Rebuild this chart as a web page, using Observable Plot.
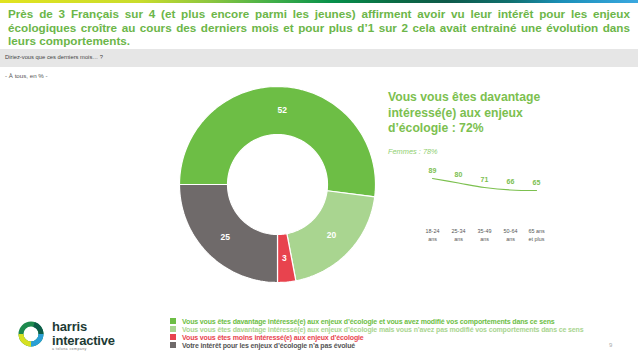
<!DOCTYPE html>
<html>
<head>
<meta charset="utf-8">
<script src="https://cdn.jsdelivr.net/npm/d3@7"></script>
<script src="https://cdn.jsdelivr.net/npm/@observablehq/plot@0.6"></script>
<style>
  html, body { margin: 0; padding: 0; background: #fff; }
  #page { position: relative; width: 638px; height: 359px; overflow: hidden; font-family: "Liberation Sans", Arial, sans-serif; background: #fff; }
  #topbar { position: absolute; left: 0; top: 0; width: 638px; height: 3px;
    background: linear-gradient(to right, #e2e31f 0%, #c9dc2c 22%, #8cc63f 33%, #3fae49 43%, #07904b 52%, #0b6b45 62%, #0e5a4a 70%, #10706f 80%, #1b8fb8 88%, #3aa8e0 100%); }
  #title { position: absolute; left: 8px; top: 7px; width: 622px; font-size: 11.7px; line-height: 13.6px; font-weight: bold; color: #6cb649; text-align: justify; }
  #band { position: absolute; left: 0; top: 49px; width: 638px; height: 18px; background: #e6e6e6; }
  #question { position: absolute; left: 5px; top: 53.5px; font-size: 5.8px; color: #444; }
  #base { position: absolute; left: 5px; top: 72px; font-size: 6.2px; color: #555; }
  #donut { position: absolute; left: 176.7px; top: 83.5px; }
  #rtitle { position: absolute; left: 388px; top: 90px; font-size: 12.2px; line-height: 15.5px; font-weight: bold; color: #7cc04f; }
  #femmes { position: absolute; left: 388px; top: 147px; font-size: 7.4px; font-style: italic; color: #8fcf6f; }
  #line { position: absolute; left: 400px; top: 150px; }
  #legend { position: absolute; left: 170px; top: 317.5px; font-size: 7px; line-height: 8px; font-weight: bold; letter-spacing: -0.14px; }
  #legend div { white-space: nowrap; }
  #legend span.sw { display: inline-block; width: 6px; height: 6px; margin-right: 6px; vertical-align: -0.5px; }
  #pnum { position: absolute; left: 609px; top: 342px; font-size: 6px; color: #aaa; }
  #logo { position: absolute; left: 17px; top: 320px; }
  #logotext1 { position: absolute; left: 52px; top: 320px; font-size: 13px; font-weight: bold; color: #1d3b35; line-height: 13.5px; letter-spacing: -0.2px; }
  #logotext2 { position: absolute; left: 52px; top: 347px; font-size: 3.6px; color: #777; letter-spacing: 0.4px; }
</style>
</head>
<body>
<div id="page">
  <div id="topbar"></div>
  <div id="title">Près de 3 Français sur 4 (et plus encore parmi les jeunes) affirment avoir vu leur intérêt pour les enjeux écologiques croître au cours des derniers mois et pour plus d’1 sur 2 cela avait entrainé une évolution dans leurs comportements.</div>
  <div id="band"></div>
  <div id="question">Diriez-vous que ces derniers mois… ?</div>
  <div id="base">- À tous, en % -</div>
  <div id="donut"></div>
  <div id="rtitle">Vous vous êtes davantage<br>intéressé(e) aux enjeux<br>d’écologie : 72%</div>
  <div id="femmes">Femmes : 78%</div>
  <div id="line"></div>
  <div id="legend"></div>
  <div id="pnum">9</div>
  <svg id="logo" width="28" height="28" viewBox="0 0 28 28">
    <circle cx="14" cy="14" r="10" fill="none" stroke="#1d8a4e" stroke-width="5"/>
    <path d="M4 14 A10 10 0 0 0 14 24" fill="none" stroke="#d7e021" stroke-width="5"/>
    <path d="M14 24 A10 10 0 0 0 24 14" fill="none" stroke="#2a9fd6" stroke-width="5"/>
    <path d="M24 14 A10 10 0 0 0 17 4.5" fill="none" stroke="#0c5c48" stroke-width="5"/>
  </svg>
  <div id="logotext1">harris<br>interactive</div>
  <div id="logotext2">a toluna company</div>
</div>
<script>
// ---- Data ----
const sliceLabels = [
  "Vous vous êtes davantage intéressé(e) aux enjeux d’écologie et vous avez modifié vos comportements dans ce sens",
  "Vous vous êtes davantage intéressé(e) aux enjeux d’écologie mais vous n’avez pas modifié vos comportements dans ce sens",
  "Vous vous êtes moins intéressé(e) aux enjeux d’écologie",
  "Votre intérêt pour les enjeux d’écologie n’a pas évolué"
];
const sliceValues = [52, 20, 3, 25];
const sliceColors = ["#6dbe45", "#a9d590", "#e8434e", "#6f6a6a"];
const legendTextColors = ["#6dbe45", "#a9d590", "#e8434e", "#555555"];

const ageGroups = ["18-24 ans", "25-34 ans", "35-49 ans", "50-64 ans", "65 ans et plus"];
const ageTickLabels = ["18-24\nans", "25-34\nans", "35-49\nans", "50-64\nans", "65 ans\net plus"];
const ageValues = [89, 80, 71, 66, 65];

// ---- Donut ----
const innerR = 0.51, outerR = 1;
const pie = d3.pie().sort(null).startAngle(-Math.PI / 2).endAngle(3 * Math.PI / 2);
const arcs = pie(sliceValues);
const polyPts = [];
arcs.forEach((a, i) => {
  const n = Math.max(8, Math.ceil((a.endAngle - a.startAngle) * 40));
  const pts = [];
  for (let k = 0; k <= n; k++) {
    const t = a.startAngle + (a.endAngle - a.startAngle) * k / n;
    pts.push({x: Math.sin(t) * outerR, y: Math.cos(t) * outerR});
  }
  for (let k = n; k >= 0; k--) {
    const t = a.startAngle + (a.endAngle - a.startAngle) * k / n;
    pts.push({x: Math.sin(t) * innerR, y: Math.cos(t) * innerR});
  }
  pts.push(pts[0]);
  pts.forEach(p => polyPts.push({...p, key: sliceLabels[i]}));
});
const labelPts = arcs.map((a, i) => {
  const m = (a.startAngle + a.endAngle) / 2, r = (innerR + outerR) / 2;
  return {x: Math.sin(m) * r, y: Math.cos(m) * r, v: sliceValues[i]};
});
const k = 100 / 98;
const donut = Plot.plot({
  width: 200, height: 200,
  margin: 0,
  x: {domain: [-k, k], axis: null},
  y: {domain: [-k, k], axis: null},
  color: {domain: sliceLabels, range: sliceColors},
  marks: [
    Plot.line(polyPts, {x: "x", y: "y", z: "key", fill: "key", stroke: "white", strokeWidth: 1.2, curve: "linear"}),
    Plot.text(labelPts, {x: "x", y: "y", text: d => String(d.v), fill: "white", fontSize: 8.5, fontWeight: "bold", fontFamily: "Liberation Sans, Arial, sans-serif"})
  ]
});
document.getElementById("donut").appendChild(donut);

// ---- Age line ----
const ageData = ageGroups.map((g, i) => ({g, v: ageValues[i]}));
const line = Plot.plot({
  width: 160, height: 100,
  marginLeft: 30, marginRight: 23, marginTop: 0, marginBottom: 26,
  x: {type: "point", domain: ageGroups, padding: 0, label: null},
  y: {domain: [65, 89], range: [40, 28], axis: null},
  style: {fontFamily: "Liberation Sans, Arial, sans-serif", overflow: "visible"},
  marks: [
    Plot.axisX({tickSize: 0, tickPadding: 3, fontSize: 5.4, lineHeight: 1.45, fill: "#555", label: null,
      tickFormat: g => ageTickLabels[ageGroups.indexOf(g)]}),
    Plot.line(ageData, {x: "g", y: "v", stroke: "#7cc04f", strokeWidth: 1.2, curve: "catmull-rom"}),
    Plot.text(ageData, {x: "g", y: "v", text: d => String(d.v), dy: -8, fill: "#7cc04f", fontSize: 7, fontWeight: "bold"})
  ]
});
document.getElementById("line").appendChild(line);

// ---- Legend ----
const leg = document.getElementById("legend");
sliceLabels.forEach((l, i) => {
  const d = document.createElement("div");
  d.innerHTML = `<span class="sw" style="background:${sliceColors[i]}"></span>`;
  const s = document.createElement("span");
  s.textContent = l;
  s.style.color = legendTextColors[i];
  d.appendChild(s);
  leg.appendChild(d);
});
</script>
</body>
</html>
